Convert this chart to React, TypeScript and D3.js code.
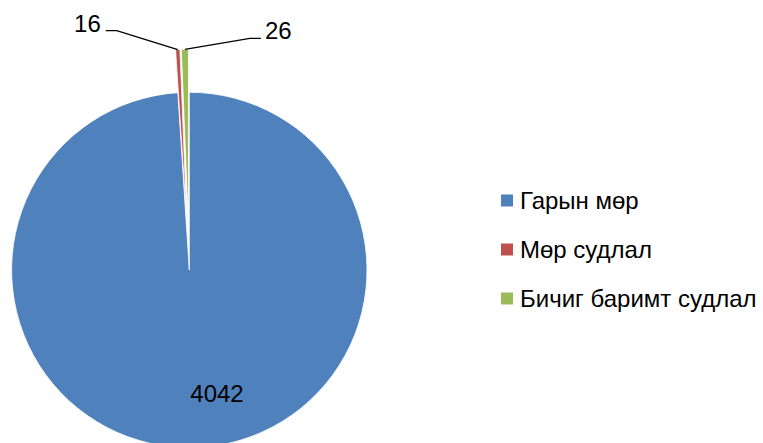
import React from "react";
import * as d3 from "d3";

const categories = ["Гарын мөр", "Мөр судлал", "Бичиг баримт судлал"];
const values = [4042, 16, 26];
const colors = ["#4F81BD", "#C0504D", "#9BBB59"];
const exploded = [false, true, true];

const W = 763;
const H = 443;
const cx = 189.3;
const cy = 270;
const R = 177.7;
const explode = 43;
const FONT = "'Liberation Sans', Arial, sans-serif";
const FS = 24;

export default function App() {
  const pie = d3
    .pie<number>()
    .sort(null)
    .value((d) => d)
    .startAngle(0)
    .endAngle(2 * Math.PI);
  const arcs = pie(values);
  const arc = d3.arc<d3.PieArcDatum<number>>().innerRadius(0).outerRadius(R);

  const offsetOf = (a: d3.PieArcDatum<number>, i: number) => {
    const mid = (a.startAngle + a.endAngle) / 2;
    const d = exploded[i] ? explode : 0;
    return [Math.sin(mid) * d, -Math.cos(mid) * d];
  };
  const outerPoint = (a: d3.PieArcDatum<number>, i: number) => {
    const mid = (a.startAngle + a.endAngle) / 2;
    const d = (exploded[i] ? explode : 0) + R;
    return [cx + Math.sin(mid) * d, cy - Math.cos(mid) * d];
  };

  const p1 = outerPoint(arcs[1], 1);
  const p2 = outerPoint(arcs[2], 2);
  const line1 = d3.line()([
    [p1[0], p1[1]],
    [p1[0] - 61, p1[1] - 19],
    [p1[0] - 72, p1[1] - 19],
  ]);
  const line2 = d3.line()([
    [p2[0], p2[1]],
    [p2[0] + 65, p2[1] - 11],
    [p2[0] + 76, p2[1] - 11],
  ]);

  const legendY = d3.scalePoint<string>().domain(categories).range([200, 298]);

  return (
    <svg
      width={W}
      height={H}
      style={{ position: "absolute", left: 0, top: 0, background: "#fff" }}
    >
      <g>
        {arcs.map((a, i) => {
          const [dx, dy] = offsetOf(a, i);
          return (
            <path
              key={i}
              d={arc(a) || ""}
              transform={`translate(${cx + dx},${cy + dy})`}
              fill={colors[i]}
              stroke="#fff"
              strokeWidth={0.8}
            />
          );
        })}
      </g>
      <path d={line1 || ""} fill="none" stroke="#000" strokeWidth={1.4} />
      <path d={line2 || ""} fill="none" stroke="#000" strokeWidth={1.4} />
      <text
        x={p1[0] - 77}
        y={p1[1] - 18}
        textAnchor="end"
        fontFamily={FONT}
        fontSize={FS}
        fill="#000"
      >
        {values[1]}
      </text>
      <text
        x={p2[0] + 80}
        y={p2[1] - 10}
        textAnchor="start"
        fontFamily={FONT}
        fontSize={FS}
        fill="#000"
      >
        {values[2]}
      </text>
      <text
        x={217}
        y={402}
        textAnchor="middle"
        fontFamily={FONT}
        fontSize={FS}
        fill="#000"
      >
        {values[0]}
      </text>
      <g>
        {categories.map((c, i) => {
          const y = legendY(c) as number;
          return (
            <g key={c}>
              <rect x={501} y={y - 5.5} width={12} height={12} fill={colors[i]} />
              <text
                x={520}
                y={y + 9}
                fontFamily={FONT}
                fontSize={FS}
                fill="#000"
              >
                {c}
              </text>
            </g>
          );
        })}
      </g>
    </svg>
  );
}
